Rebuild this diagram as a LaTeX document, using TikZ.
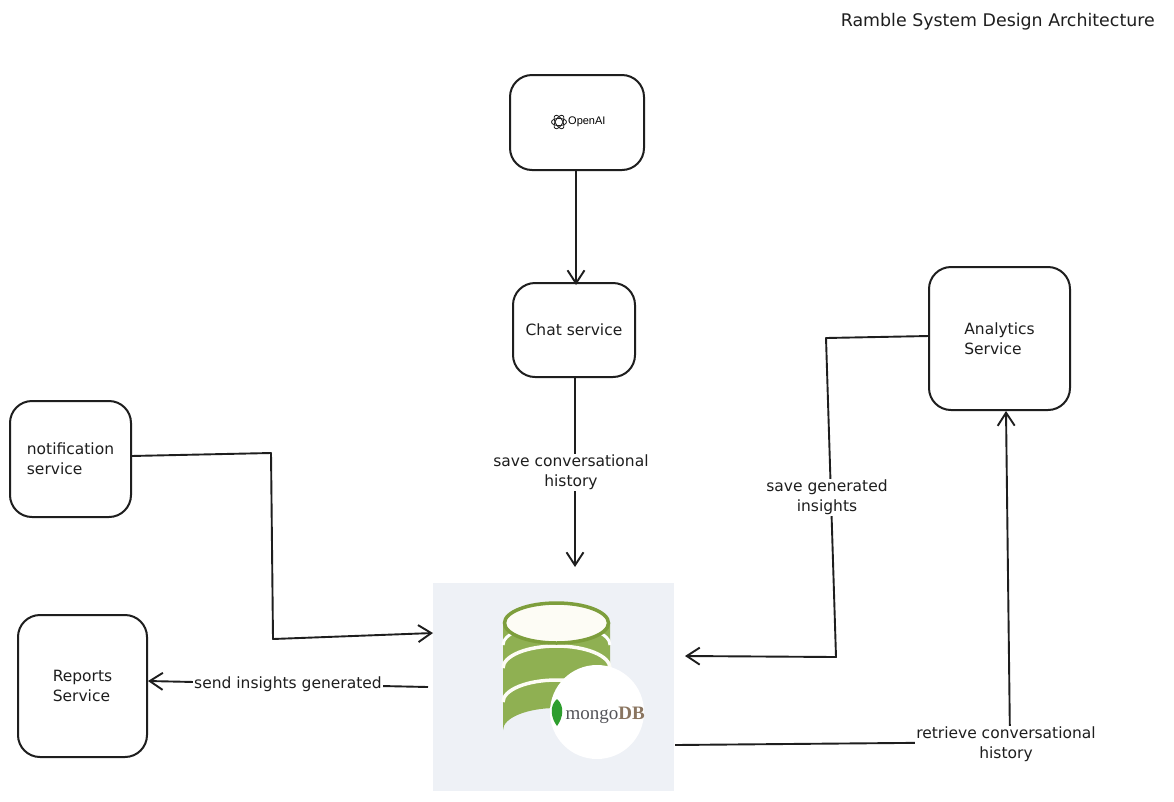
\documentclass[tikz,border=0pt]{standalone}
\usepackage{fontspec}
\setmainfont{DejaVu Sans}
\newfontfamily\serifdb{Liberation Serif}
\newfontfamily\sansai{Liberation Sans}
\usetikzlibrary{arrows.meta,calc}
\definecolor{ink}{HTML}{1E1E1E}
\definecolor{dbbg}{HTML}{EEF1F6}
\definecolor{dbgreen}{HTML}{8FB052}
\definecolor{dbtop}{HTML}{7D9E3C}
\definecolor{dbcream}{HTML}{FDFCF5}
\definecolor{leaf}{HTML}{2E9E2E}
\definecolor{dbbrown}{HTML}{8A7560}
\definecolor{dbgrey}{HTML}{55555A}
\tikzset{
  x=1pt,y=-1pt,
  box/.style={draw=ink,line width=2pt,rounded corners=22pt,inner sep=0pt,align=left,font=\fontsize{15.5}{20}\selectfont,text=ink},
  link/.style={draw=ink,line width=1.9pt,line join=round,-{Straight Barb[length=13pt,width=17pt,line width=1.9pt]}},
  plain/.style={draw=ink,line width=1.9pt,line join=round},
  lab/.style={fill=white,inner xsep=1pt,inner ysep=1pt,align=center,font=\fontsize{15.5}{20}\selectfont,text=ink},
}
\begin{document}
\begin{tikzpicture}
\useasboundingbox (0,0) rectangle (1174,801);
\fill[white] (0,0) rectangle (1174,801);
% title
\node[anchor=east,text=ink,font=\fontsize{17.4}{20}\selectfont,inner sep=0pt] (title) at (1155,22) {Ramble System Design Architecture};
% boxes
\node[box,minimum width=134pt,minimum height=95pt] (oai) at (577,122.5) {};
\node[box,minimum width=122pt,minimum height=94pt] (chat) at (574,330) {Chat service};
\node[box,minimum width=141pt,minimum height=143pt] (ana) at (999.5,338.5) {Analytics\\Service};
\node[box,minimum width=121pt,minimum height=116pt] (notif) at (70.5,459) {notification\\service};
\node[box,minimum width=129pt,minimum height=142pt] (rep) at (82.5,686) {Reports\\Service};
% database picture
\node[fill=dbbg,minimum width=241pt,minimum height=208pt,inner sep=0pt] (db) at (553.5,687) {};
\fill[dbgreen] (503,623) -- (503,730) arc[start angle=180,end angle=360,x radius=53.5,y radius=22] -- (610,623) -- cycle;
\draw[white,line width=3pt] (503,645) arc[start angle=180,end angle=360,x radius=53.5,y radius=21];
\draw[dbcream,line width=3.5pt] (503,668) arc[start angle=180,end angle=360,x radius=53.5,y radius=22];
\draw[dbcream,line width=3.5pt] (503,702) arc[start angle=180,end angle=360,x radius=53.5,y radius=22];
\filldraw[fill=dbcream,draw=dbtop,line width=3.5pt] (556.5,623) ellipse[x radius=52,y radius=20];
\fill[white] (597,712) circle[radius=47];
\fill[leaf] (557,699) .. controls (549,706) and (551,718) .. (557,726) .. controls (563,718) and (565,706) .. (557,699) -- cycle;
\node[anchor=west,inner sep=0pt,font=\fontsize{19}{20}\selectfont\serifdb] (dbname) at (565.5,715) {\textcolor{dbgrey}{mongo}\textcolor{dbbrown}{\textbf{DB}}};
% OpenAI logo and name
\foreach \a in {0,60,120}{\draw[ink,line width=.8pt,rotate around={\a:(559,122)}] (559,122) ellipse[x radius=7.5,y radius=3.6];}
\node[anchor=west,inner sep=0pt,text=black,font=\fontsize{11}{12}\selectfont\sansai] (oainame) at (568,122) {OpenAI};
% waypoints
\coordinate (a1) at (826,338);
\coordinate (a2) at (836,657);
\coordinate (a3) at (685,656);
\coordinate (n1) at (271,453);
\coordinate (n2) at (273,639);
\coordinate (n3) at (433,633);
\coordinate (s1) at (428,687);
\coordinate (s2) at (148,681);
\coordinate (r0) at (675,745);
\coordinate (r1) at (1010,742);
\coordinate (r2) at (1006,411);
\coordinate (c1) at (575,378);
\coordinate (c2) at (575,567);
\coordinate (o1) at (576,170);
\coordinate (o2) at (576,285);
\coordinate (a0) at (929,336);
\coordinate (n0) at (131,456);
% connectors
\draw[link] (o1) -- (o2);
\draw[link] (c1) -- (c2);
\draw[link] (a0) -- (a1) -- (a2) -- (a3);
\draw[link] (n0) -- (n1) -- (n2) -- (n3);
\draw[link] (s1) -- (s2);
\draw[link] (r0) -- (r1) -- (r2);
% labels
\node[lab] (l1) at (571,472) {save conversational\\history};
\node[lab] (l2) at (827,497) {save generated\\insights};
\node[lab] (l3) at (288,684) {send insights generated};
\node[lab] (l4) at (1006,744) {retrieve conversational\\history};
\end{tikzpicture}
\end{document}
